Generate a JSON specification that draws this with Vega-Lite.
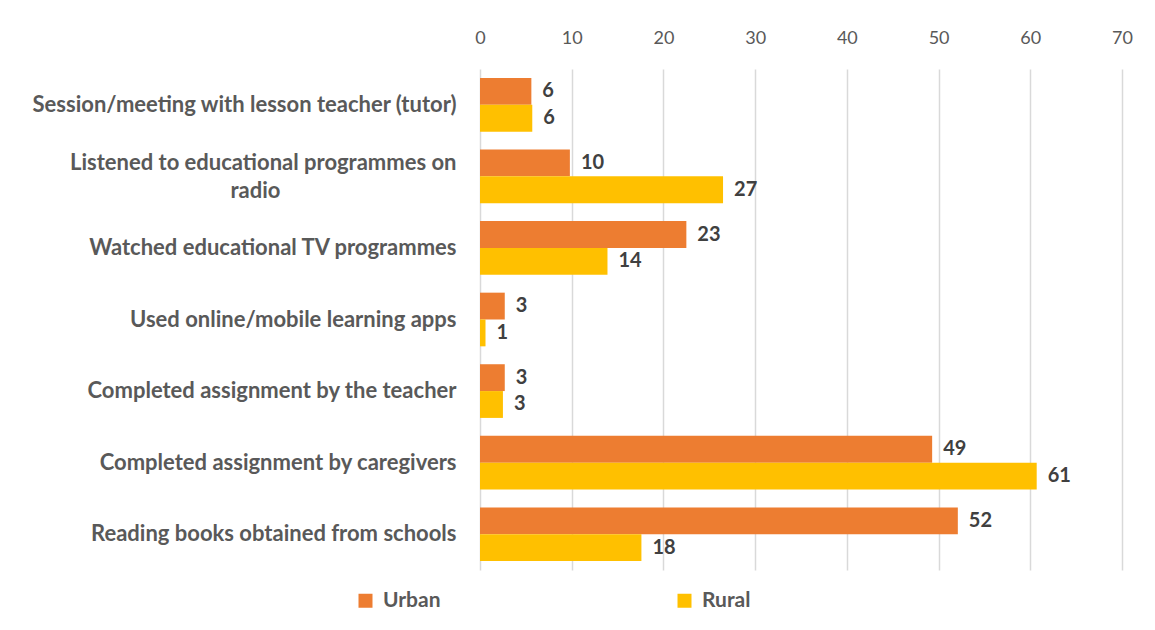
{
  "$schema": "https://vega.github.io/schema/vega-lite/v6.json",
  "width": 642,
  "height": 501,
  "autosize": "none",
  "padding": {"left": 480, "top": 69, "right": 33, "bottom": 60},
  "background": "white",
  "config": {"view": {"stroke": null}, "font": "Lato"},
  "data": {
    "values": [
      {"activity": "Session/meeting with lesson teacher (tutor)", "area": "Urban", "value": 5.6},
      {"activity": "Session/meeting with lesson teacher (tutor)", "area": "Rural", "value": 5.7},
      {"activity": "Listened to educational programmes on radio", "area": "Urban", "value": 9.8},
      {"activity": "Listened to educational programmes on radio", "area": "Rural", "value": 26.5},
      {"activity": "Watched educational TV programmes", "area": "Urban", "value": 22.5},
      {"activity": "Watched educational TV programmes", "area": "Rural", "value": 13.9},
      {"activity": "Used online/mobile learning apps", "area": "Urban", "value": 2.7},
      {"activity": "Used online/mobile learning apps", "area": "Rural", "value": 0.6},
      {"activity": "Completed assignment by the teacher", "area": "Urban", "value": 2.7},
      {"activity": "Completed assignment by the teacher", "area": "Rural", "value": 2.5},
      {"activity": "Completed assignment by caregivers", "area": "Urban", "value": 49.3},
      {"activity": "Completed assignment by caregivers", "area": "Rural", "value": 60.7},
      {"activity": "Reading books obtained from schools", "area": "Urban", "value": 52.1},
      {"activity": "Reading books obtained from schools", "area": "Rural", "value": 17.6}
    ]
  },
  "encoding": {
    "y": {
      "field": "activity",
      "type": "nominal",
      "sort": null,
      "scale": {"paddingInner": 0.25, "paddingOuter": 0.125},
      "axis": {
        "title": null,
        "ticks": false,
        "domain": false,
        "labelFontSize": 22,
        "labelFontWeight": "bold",
        "labelColor": "#595959",
        "labelPadding": 24,
        "labelLimit": 0,
        "labelLineHeight": 28,
        "labelOffset": {"condition": {"test": "datum.value == 'Listened to educational programmes on radio'", "value": -13}, "value": 0},
        "labelExpr": "datum.value == 'Listened to educational programmes on radio' ? ['Listened to educational programmes on', 'radio\u2800\u2800\u2800\u2800\u2800\u2800\u2800\u2800\u2800\u2800\u2800'] : datum.value"
      }
    },
    "yOffset": {"field": "area", "type": "nominal", "sort": ["Urban", "Rural"]},
    "x": {
      "field": "value",
      "type": "quantitative",
      "scale": {"domain": [0, 70], "nice": false},
      "axis": {
        "orient": "top",
        "title": null,
        "values": [0, 10, 20, 30, 40, 50, 60, 70],
        "ticks": false,
        "domain": false,
        "grid": true,
        "gridColor": "#D9D9D9",
        "gridWidth": 1.5,
        "labelFontSize": 18,
        "labelColor": "#595959",
        "labelPadding": 22,
        "labelOverlap": false,
        "labelFlush": false
      }
    }
  },
  "layer": [
    {
      "mark": {"type": "bar"},
      "encoding": {
        "color": {
          "field": "area",
          "type": "nominal",
          "sort": ["Urban", "Rural"],
          "scale": {"domain": ["Urban", "Rural"], "range": ["#ED7D31", "#FFC000"]},
          "legend": {
            "title": null,
            "orient": "none",
            "legendX": -125,
            "legendY": 521,
            "direction": "horizontal",
            "symbolType": "square",
            "symbolSize": 196,
            "symbolStrokeWidth": 0,
            "labelFontSize": 21,
            "labelFontWeight": "bold",
            "labelColor": "#595959",
            "labelOffset": 7,
            "columnPadding": 233
          }
        }
      }
    },
    {
      "mark": {"type": "text", "align": "left", "baseline": "middle", "dx": 11, "fontSize": 20, "fontWeight": "bold", "color": "#404040"},
      "encoding": {
        "text": {"field": "value", "type": "quantitative", "format": ".0f"}
      }
    }
  ]
}
